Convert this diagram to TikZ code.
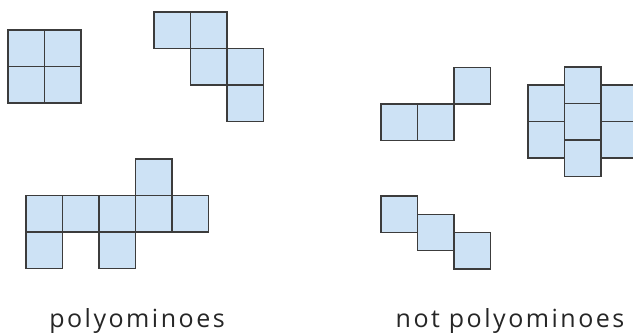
\documentclass[tikz,border=0pt]{standalone}
\usepackage{fontspec}
\setmainfont{Open Sans}
\newfontfamily\capfont[LetterSpace=10]{Open Sans}
\definecolor{cellfill}{RGB}{205,226,245}
\definecolor{cellline}{RGB}{60,60,60}
\begin{document}
\begin{tikzpicture}[x=1pt,y=-1pt,
  cellbox/.style={fill=cellfill,draw=cellline,line width=1.4pt,line join=miter},
  caption/.style={font=\capfont\fontsize{25}{30}\selectfont,text=black!85,anchor=base,inner sep=0pt}]
\useasboundingbox (0,0) rectangle (633,335);
\clip (0,0) rectangle (633,335);
\def\s{36.5}
% 2x2 square
\foreach \i/\j in {0/0,1/0,0/1,1/1}
  \draw[cellbox] (8+\i*\s,30+\j*\s) rectangle ++(\s,\s);
% Z pentomino
\foreach \i/\j in {0/0,1/0,1/1,2/1,2/2}
  \draw[cellbox] (154+\i*\s,12+\j*\s) rectangle ++(\s,\s);
% heptomino
\foreach \i/\j in {3/0,0/1,1/1,2/1,3/1,4/1,0/2,2/2}
  \draw[cellbox] (26+\i*\s,159+\j*\s) rectangle ++(\s,\s);
% not polyomino: corner touch
\foreach \i/\j in {0/1,1/1,2/0}
  \draw[cellbox] (381+\i*\s,67.5+\j*\s) rectangle ++(\s,\s);
% not polyomino: half-offset stairs
\foreach \i in {0,1,2}
  \draw[cellbox] (381+\i*\s,196+\i*18.25) rectangle ++(\s,\s);
% not polyomino: offset columns
\foreach \j in {0,1}
  \draw[cellbox] (528,85+\j*\s) rectangle ++(\s,\s);
\foreach \j in {0,1}
  \draw[cellbox] (601,85+\j*\s) rectangle ++(\s,\s);
\foreach \j in {0,1,2}
  \draw[cellbox] (564.5,67+\j*\s) rectangle ++(\s,\s);
% captions
\node[caption] (lp) at (137,327) {polyominoes};
\node[caption] (lnp) at (510,327) {not polyominoes};
\end{tikzpicture}
\end{document}
